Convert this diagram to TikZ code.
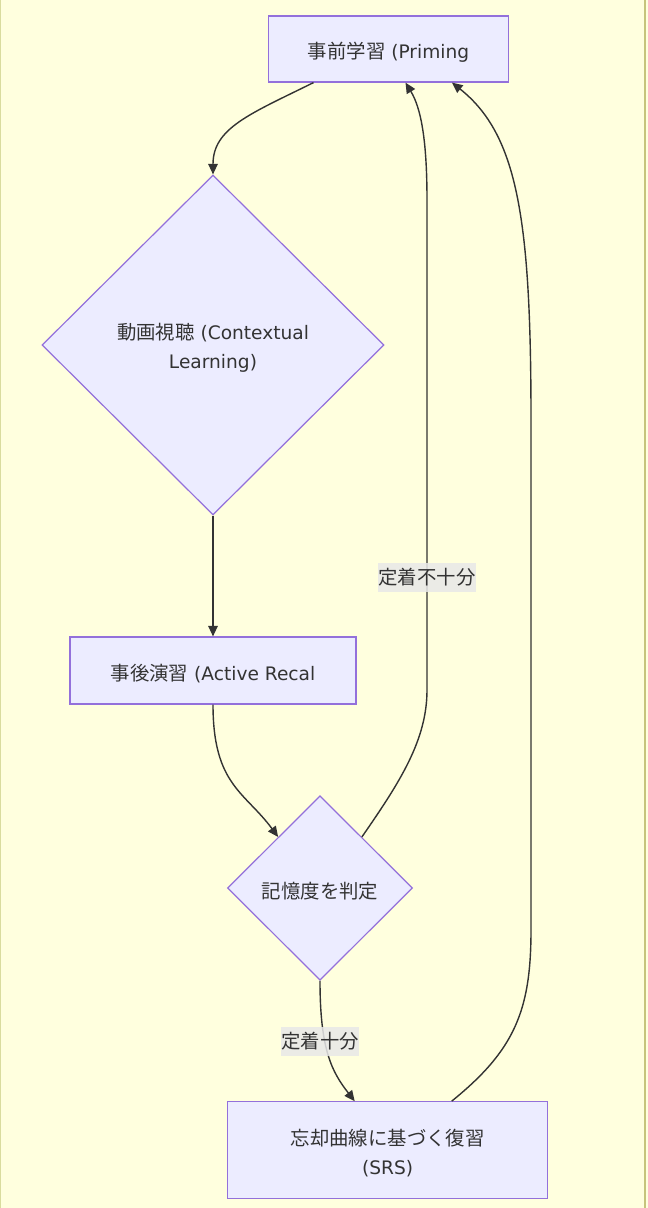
\documentclass[tikz,border=0pt]{standalone}
\usepackage{fontspec}
\setmainfont{Noto Sans CJK JP}
\newfontfamily\latnfont{DejaVu Sans}
\newcommand\latn[1]{{\latnfont\fontsize{18.6}{29}\selectfont #1}}
\newcommand\dn[1]{\raisebox{-3pt}[\height][\depth]{#1}}
\usetikzlibrary{shapes.geometric,arrows.meta,calc}
\definecolor{bgc}{HTML}{FFFFDE}
\definecolor{nodefill}{HTML}{ECECFF}
\definecolor{nodeline}{HTML}{9370DB}
\definecolor{edgec}{HTML}{333333}
\definecolor{txt}{HTML}{333333}
\definecolor{lblbg}{HTML}{E8E8E8}
\definecolor{leftb}{HTML}{D9DC9E}
\definecolor{rightb}{HTML}{C6C47C}
\tikzset{
  basefont/.style={font=\fontsize{19.4}{29}\selectfont, text=txt},
  procbox/.style={basefont, draw=nodeline, fill=nodefill, line width=1.2pt, rectangle, inner sep=0pt, align=center},
  decide/.style={basefont, draw=nodeline, fill=nodefill, line width=1.2pt, diamond, inner sep=0pt, align=center},
  flow/.style={draw=edgec, line width=1.4pt, -{Triangle[length=10.5pt,width=9.5pt]}},
  elabel/.style={basefont, fill=lblbg, fill opacity=0.85, text opacity=1, inner sep=0pt, minimum height=29pt}
}
\begin{document}
\begin{tikzpicture}[x=1pt,y=-1pt]
\fill[bgc] (0,0) rectangle (648,1208);
\useasboundingbox (0,0) rectangle (648,1208);
\draw[leftb, line width=1.2pt] (0.6,0) -- (0.6,1208);
\draw[rightb, line width=2pt] (645,0) -- (645,1208);

\node[procbox, minimum width=240pt, minimum height=66pt] (prime) at (388.5,49) {\dn{事前学習\latn{ (Priming}}};
\node[decide, minimum width=342pt, minimum height=340pt] (watch) at (213,345) {\dn{動画視聴\latn{ (Contextual}}\\\dn{\latn{Learning)}}};
\node[procbox, minimum width=286pt, minimum height=67pt] (recall) at (213,670.5) {\dn{事後演習\latn{ (Active Recal}}};
\node[decide, minimum width=185pt, minimum height=184.5pt] (judge) at (320,888) {\dn{記憶度を判定}};
\node[procbox, minimum width=320pt, minimum height=96.5pt] (srs) at (387.7,1150) {\dn{忘却曲線に基づく復習}\\\dn{\latn{(SRS)}}};

% Priming -> watch
\draw[flow] ($(prime.south)+(-75,0)$) .. controls (250,114) and (213,128) .. (watch.north);
% watch -> recall
\draw[flow] (watch.south) -- (recall.north);
% recall -> judge
\draw[flow] (recall.south) .. controls (213,785) and (245,792) .. ($(judge.north)!0.45!(judge.west)$);
% judge -> prime (not enough)
\draw[flow] ($(judge.north)!0.45!(judge.east)$) .. controls (400,782) and (427,740) .. (427,690)
  -- (427,200) .. controls (427,140) and (421,108) .. ($(prime.south)+(17,0)$);
% judge -> srs (enough)
\draw[flow] (judge.south) .. controls (320,1050) and (332,1072) .. ($(srs.north)+(-33,0)$);
% srs -> prime
\draw[flow] ($(srs.north)+(64,0)$) .. controls (515,1050) and (531,1010) .. (531,930)
  -- (531,420) .. controls (531,220) and (518,135) .. ($(prime.south)+(63.5,0)$);

\node[elabel, minimum width=98pt] (l1) at (427,577) {定着不十分};
\node[elabel, minimum width=78pt] (l2) at (320,1041.4) {定着十分};
\end{tikzpicture}
\end{document}
